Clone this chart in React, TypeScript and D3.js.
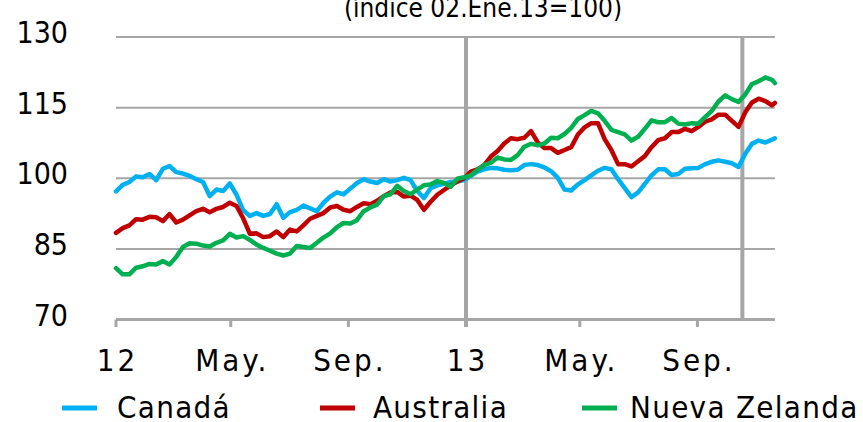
import React from "react";
import * as d3 from "d3";

// ---- data (weekly readings, index 02.Ene.13 = 100) ----
const START = new Date(2012, 0, 2);
const LAST = new Date(2013, 10, 21);
const canada = [
  97.2, 98.6, 99.2, 100.4, 100.2, 100.9, 99.6, 102.0, 102.6, 101.3,
  101.0, 100.5, 99.8, 99.2, 96.2, 97.6, 97.3, 98.9, 96.5, 93.2,
  92.0, 92.6, 92.0, 92.4, 94.5, 91.6, 92.8, 93.3, 94.2, 93.6,
  93.0, 94.8, 96.1, 97.0, 96.6, 97.8, 99.0, 99.8, 99.3, 99.0,
  99.8, 99.3, 99.6, 100.1, 99.6, 97.3, 95.8, 97.9, 98.5, 98.8,
  99.2, 99.3, 99.6, 100.5, 101.4, 101.9, 102.2, 102.1, 101.8, 101.7,
  101.8, 102.8, 103.0, 102.8, 102.3, 101.5, 100.1, 97.6, 97.4, 98.7,
  99.6, 100.6, 101.6, 102.2, 101.9, 99.8, 97.9, 96.0, 97.0, 98.8,
  100.6, 101.9, 101.9, 100.7, 100.9, 102.0, 102.1, 102.2, 103.0, 103.5,
  103.8, 103.5, 103.2, 102.4, 105.2, 107.3, 108.0, 107.6, 108.2, 108.5,
];
const australia = [
  88.4, 89.4, 90.0, 91.3, 91.2, 91.8, 91.7, 90.9, 92.4, 90.6,
  91.2, 92.1, 93.0, 93.5, 92.8, 93.5, 93.9, 94.8, 94.1, 91.5,
  88.2, 88.3, 87.5, 87.7, 88.7, 87.5, 89.1, 88.7, 90.0, 91.4,
  92.0, 92.6, 93.8, 94.1, 93.3, 93.0, 93.9, 94.7, 94.5, 95.2,
  96.2, 97.0, 97.1, 96.1, 96.3, 95.4, 93.3, 95.0, 96.5, 97.5,
  98.5, 99.3, 100.0, 101.4, 101.9, 102.8, 104.6, 105.8, 107.4, 108.5,
  108.3, 108.6, 110.0, 107.6, 106.4, 106.4, 105.4, 106.0, 106.6, 109.3,
  110.8, 111.7, 111.7, 108.3, 106.0, 103.0, 103.0, 102.5, 103.6, 104.7,
  106.6, 108.1, 108.5, 109.8, 109.8, 110.5, 110.0, 110.9, 112.0, 112.5,
  113.5, 113.5, 112.2, 110.9, 114.0, 116.1, 116.9, 116.4, 115.5, 116.0,
];
const nuevaZelanda = [
  80.9, 79.6, 79.6, 81.0, 81.3, 81.8, 81.7, 82.4, 81.7, 83.3,
  85.4, 86.2, 86.1, 85.7, 85.5, 86.3, 86.8, 88.2, 87.4, 87.7,
  86.9, 85.9, 85.2, 84.6, 84.0, 83.6, 84.0, 85.6, 85.4, 85.2,
  86.3, 87.4, 88.3, 89.6, 90.5, 90.4, 91.1, 93.0, 93.8, 94.4,
  96.2, 96.6, 98.4, 97.3, 96.6, 97.6, 98.5, 98.7, 99.4, 99.0,
  98.2, 99.9, 100.2, 100.6, 101.8, 102.8, 103.3, 104.4, 104.0, 103.9,
  104.9, 106.7, 107.3, 107.0, 107.4, 108.6, 108.5, 109.4, 110.7, 112.6,
  113.4, 114.3, 113.8, 112.2, 110.3, 109.8, 109.3, 108.0, 108.8, 110.5,
  112.3, 111.9, 111.9, 112.8, 111.6, 111.4, 111.7, 111.6, 113.0, 114.3,
  116.3, 117.6, 116.8, 116.2, 117.8, 120.0, 120.6, 121.4, 120.9, 120.2,
];
const seriesNames = ["Canadá", "Australia", "Nueva Zelanda"];
const seriesColors = ["#00B0F0", "#C00000", "#00B050"];
const yTicks = [70, 85, 100, 115, 130];
const xTickDates = [
  new Date(2012, 0, 2), new Date(2012, 4, 1), new Date(2012, 8, 1),
  new Date(2013, 0, 2), new Date(2013, 4, 1), new Date(2013, 8, 1),
];
const xTickLabels = ["12", "May.", "Sep.", "13", "May.", "Sep."];
const markerDates = [new Date(2013, 0, 2), new Date(2013, 9, 18)];
const title = "(índice 02.Ene.13=100)";

const dates = canada.map((_, i) =>
  i < canada.length - 1 ? d3.timeDay.offset(START, 7 * i) : LAST
);

const FONT = "'DejaVu Sans Condensed', 'DejaVu Sans', sans-serif";
const GRID = "#A6A6A6";

export default function App() {
  const W = 863, H = 422;
  const x = d3.scaleTime()
    .domain([START, new Date(2013, 0, 2)])
    .range([116, 466]);
  const xEnd = x(LAST);
  const y = d3.scaleLinear().domain([70, 130]).range([319.5, 37]);
  const line = d3.line<number>()
    .x((_, i) => x(dates[i]))
    .y((d) => y(d));
  const all = [canada, australia, nuevaZelanda];
  const legendX = [62, 320, 582];
  const legendTextX = [117, 373, 630];
  const cond = { fontStretch: "condensed" } as React.CSSProperties;
  return (
    <svg width={W} height={H} style={{ position: "absolute", left: 0, top: 0, background: "#fff" }}>
      <text x={483} y={17} textAnchor="middle" fontFamily={FONT} fontSize={26} fill="#000" style={cond}>
        {title}
      </text>
      {yTicks.filter((t) => t !== 70).map((t) => (
        <line key={t} x1={116} x2={xEnd} y1={y(t)} y2={y(t)} stroke={GRID} strokeWidth={2} />
      ))}
      {yTicks.map((t) => (
        <text key={"l" + t} x={68} y={y(t) + 6} textAnchor="end" fontFamily={FONT} fontSize={30} fill="#000" style={cond}>
          {t}
        </text>
      ))}
      {markerDates.map((d, i) => (
        <line key={"m" + i} x1={x(d)} x2={x(d)} y1={y(130)} y2={i === 0 ? 327 : y(70)} stroke={GRID} strokeWidth={4} />
      ))}
      <line x1={116} x2={xEnd} y1={y(70)} y2={y(70)} stroke={GRID} strokeWidth={3} />
      {xTickDates.map((d, i) => (
        <g key={"x" + i}>
          <line x1={x(d)} x2={x(d)} y1={y(70)} y2={327} stroke={GRID} strokeWidth={3} />
          <text x={x(d) + 1.5} y={371} textAnchor="middle" fontFamily={FONT} fontSize={31} letterSpacing={3} fill="#000" style={cond}>
            {xTickLabels[i]}
          </text>
        </g>
      ))}
      {all.map((s, k) => (
        <path key={"s" + k} d={line(s) || ""} fill="none" stroke={seriesColors[k]} strokeWidth={4.5} strokeLinejoin="round" strokeLinecap="round" />
      ))}
      {seriesNames.map((n, k) => (
        <g key={"lg" + k}>
          <line x1={legendX[k]} x2={legendX[k] + 35} y1={408} y2={408} stroke={seriesColors[k]} strokeWidth={5} />
          <text x={legendTextX[k]} y={418} fontFamily={FONT} fontSize={31} letterSpacing={1.3} fill="#000" style={cond}>
            {n}
          </text>
        </g>
      ))}
    </svg>
  );
}
